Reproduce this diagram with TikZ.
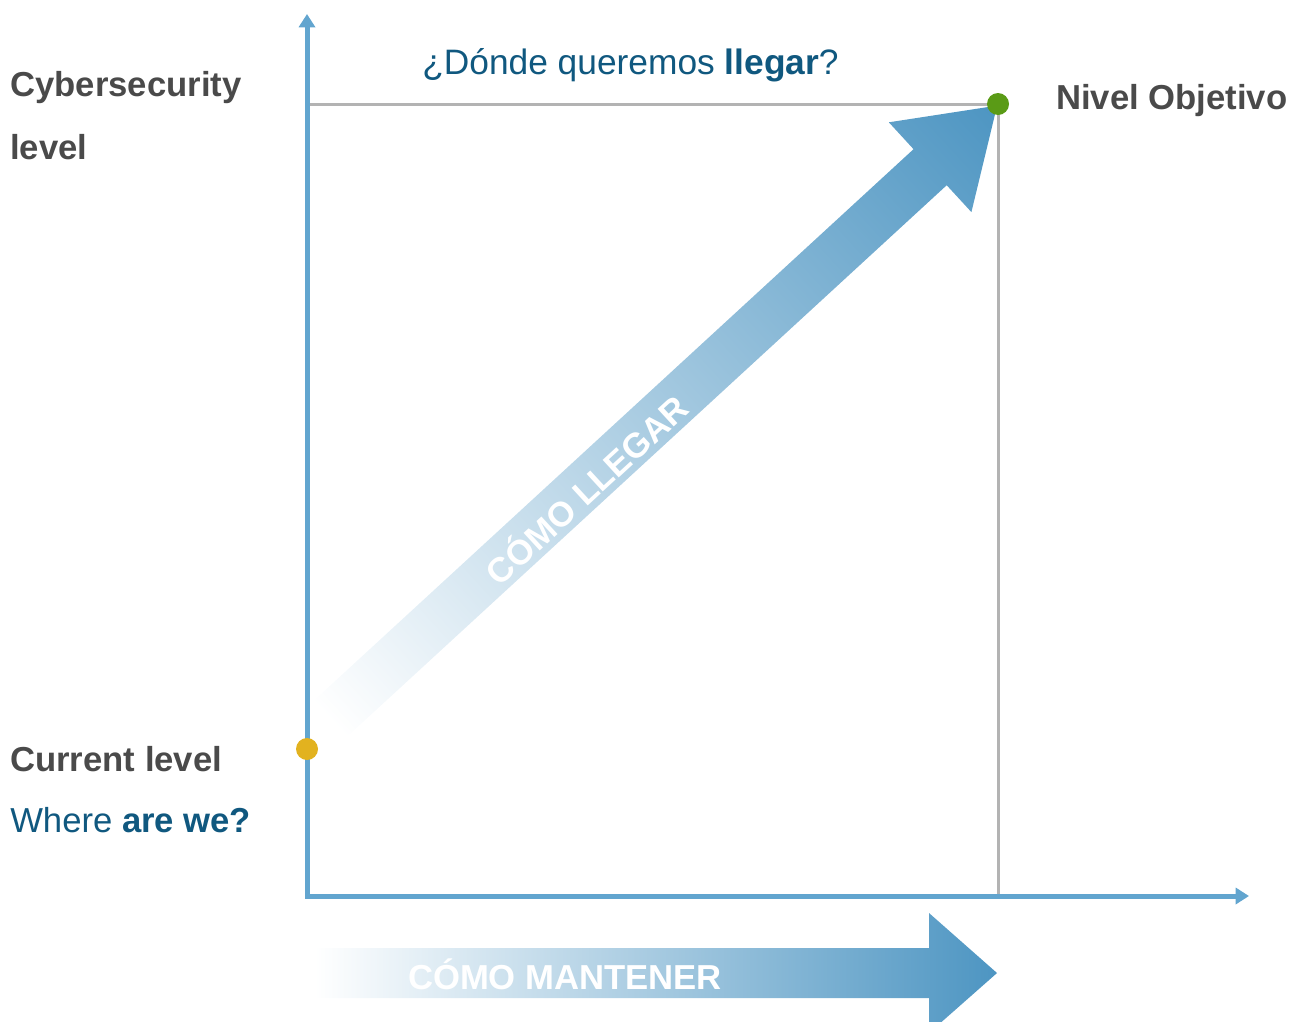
\documentclass[tikz,border=0pt]{standalone}
\usepackage{fontspec}
\setmainfont{Liberation Sans}
\usepackage{xcolor}
\usetikzlibrary{positioning}
\usetikzlibrary{calc,arrows.meta}

\definecolor{axisblue}{HTML}{62A5CF}
\definecolor{arrowblue}{HTML}{4D95C2}
\definecolor{textblue}{HTML}{10587F}
\definecolor{textgray}{HTML}{4A4A4A}
\definecolor{guidegray}{HTML}{B3B3B3}
\definecolor{goalgreen}{HTML}{5A9B16}
\definecolor{nowyellow}{HTML}{E2B21F}

\begin{document}
\begin{tikzpicture}[x=0.75pt,y=-0.75pt,
		lbl/.style={inner sep=0pt,anchor=base west,font=\fontsize{26}{30}\selectfont},
		grey lbl/.style={lbl,textgray,font=\fontsize{26}{30}\selectfont\bfseries},
		band text/.style={inner sep=0pt,anchor=base,white,font=\fontsize{26}{30}\selectfont\bfseries},
		band/.style={left color=white,right color=arrowblue},
		dot/.style={circle,inner sep=0pt,minimum size=16.5pt}]
		\clip (0,0) rectangle (1301,1021);
		\coordinate(O) at (307,896);
		\coordinate(Y) at (307,14);
		\coordinate(X) at (1249,896);
		\coordinate(G) at (998,104);
		\coordinate(C) at (307,749);
		\coordinate(T) at (329.5,719.5);
		\coordinate(M) at (315,973);
		
		% guide lines to the target level
		\draw[guidegray,line width=2.25pt] (Y |- G) -- (G) -- (G |- O);
		
		% axes
		\draw[axisblue,line width=3.75pt,{Triangle[length=10pt,width=12pt]}-{Triangle[length=10pt,width=12pt]}] (Y) -- (O) -- (X);
		
		% diagonal band, drawn along its own axis
		\begin{scope}[transform canvas={shift={(T)},rotate=42.6}]
			\shade[band] (0,-24.5) -- (816,-24.5) -- (816,-61) -- (907,0) -- (816,61) -- (816,24.5) -- (0,24.5) -- cycle;
			\node[band text] (llegar) at (345,18) {CÓMO LLEGAR};
		\end{scope}
		
		% bottom band
		\shade[band] (M) ++(0,-25) -- ++(614,0) -- ++(0,-35) -- ++(68,60) -- ++(-68,60) -- ++(0,-35) -- ++(-614,0) -- cycle;
		\node[band text] (mantener) at (565,989) {CÓMO MANTENER};
		
		\node[dot,fill=goalgreen] (goal) at (G) {};
		\node[dot,fill=nowyellow] (now) at (C) {};
		
		\node[grey lbl] (cyber) at (10,96) {Cybersecurity};
		\node[grey lbl] (level) at (10,159) {level};
		\node[grey lbl] (current) at (10,771) {Current level};
		\node[lbl,textblue] (where) at (10,832) {Where \textbf{are we?}};
		\node[lbl,textblue,font=\fontsize{26.5}{30}\selectfont] (donde) at (422,74) {¿Dónde queremos \textbf{llegar}?};
		\node[grey lbl] (nivel) at (1056,109) {Nivel Objetivo};
	\end{tikzpicture}
\end{document}
